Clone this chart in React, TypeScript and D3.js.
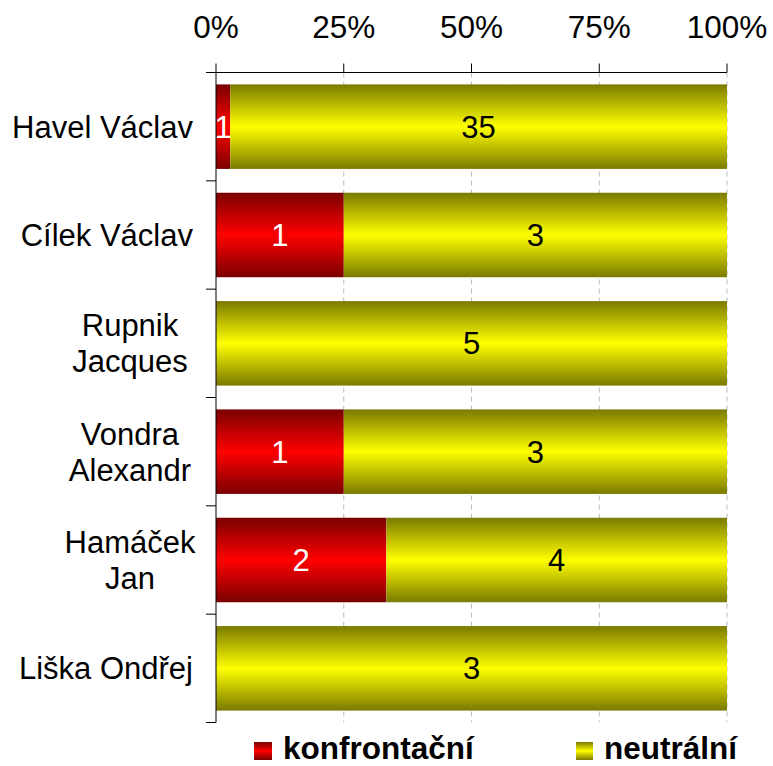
import React from "react";
import * as d3 from "d3";

const categories = [
  ["Havel Václav"],
  ["Cílek Václav"],
  ["Rupnik", "Jacques"],
  ["Vondra", "Alexandr"],
  ["Hamáček", "Jan"],
  ["Liška Ondřej"],
];
const konfrontacni = [1, 1, 0, 1, 2, 0];
const neutralni = [35, 3, 5, 3, 4, 3];
const tickValues = [0, 0.25, 0.5, 0.75, 1];
const seriesNames = ["konfrontační", "neutrální"];

const W = 773;
const H = 766;
const M = { left: 216, right: 727, top: 72.5, bottom: 722.5 };
const FONT = "Liberation Sans, Arial, sans-serif";

export default function App() {
  const x = d3.scaleLinear().domain([0, 1]).range([M.left, M.right]);
  const y = d3
    .scaleBand<number>()
    .domain(categories.map((_, i) => i))
    .range([M.top, M.bottom])
    .paddingInner(0.22)
    .paddingOuter(0.11);
  const step = y.step();

  const rows = categories.map((c, i) => {
    const total = konfrontacni[i] + neutralni[i];
    return { i, c, k: konfrontacni[i], n: neutralni[i], kp: konfrontacni[i] / total };
  });

  return (
    <svg
      width={W}
      height={H}
      style={{ position: "absolute", left: 0, top: 0, background: "#fff" }}
      fontFamily={FONT}
    >
      <defs>
        <linearGradient id="gRed" x1="0" y1="0" x2="0" y2="1">
          <stop offset="0" stopColor="#7a0000" />
          <stop offset="0.5" stopColor="#ff0000" />
          <stop offset="1" stopColor="#7a0000" />
        </linearGradient>
        <linearGradient id="gYel" x1="0" y1="0" x2="0" y2="1">
          <stop offset="0" stopColor="#7a7a00" />
          <stop offset="0.5" stopColor="#ffff00" />
          <stop offset="1" stopColor="#7a7a00" />
        </linearGradient>
      </defs>

      {/* gridlines */}
      {tickValues.slice(1).map((t) => (
        <line
          key={"g" + t}
          x1={x(t)}
          x2={x(t)}
          y1={M.top}
          y2={M.bottom}
          stroke="#bdbdbd"
          strokeWidth={1}
          strokeDasharray="5,4"
        />
      ))}

      {/* bars */}
      {rows.map((r) => {
        const by = y(r.i)!;
        const bh = y.bandwidth();
        return (
          <g key={"b" + r.i}>
            {r.k > 0 && (
              <rect x={x(0)} y={by} width={x(r.kp) - x(0)} height={bh} fill="url(#gRed)" />
            )}
            <rect x={x(r.kp)} y={by} width={x(1) - x(r.kp)} height={bh} fill="url(#gYel)" />
            {r.k > 0 && (
              <text
                x={(x(0) + x(r.kp)) / 2}
                y={by + bh / 2}
                dy="0.36em"
                textAnchor="middle"
                fontSize={31}
                fill="#fff"
              >
                {r.k}
              </text>
            )}
            <text
              x={(x(r.kp) + x(1)) / 2}
              y={by + bh / 2}
              dy="0.36em"
              textAnchor="middle"
              fontSize={31}
              fill="#000"
            >
              {r.n}
            </text>
          </g>
        );
      })}

      {/* top axis */}
      <line x1={M.left - 10} x2={M.right} y1={M.top} y2={M.top} stroke="#000" strokeWidth={1} />
      {tickValues.map((t) => (
        <g key={"t" + t}>
          <line x1={x(t)} x2={x(t)} y1={M.top - 9} y2={M.top} stroke="#000" />
          <text x={x(t)} y={38} textAnchor="middle" fontSize={31.5} fill="#000">
            {d3.format(".0%")(t)}
          </text>
        </g>
      ))}

      {/* left axis */}
      <line x1={M.left} x2={M.left} y1={M.top} y2={M.bottom} stroke="#000" strokeWidth={1} />
      {d3.range(categories.length + 1).map((k) => (
        <line
          key={"lt" + k}
          x1={M.left - 10}
          x2={M.left}
          y1={M.top + k * step}
          y2={M.top + k * step}
          stroke="#000"
        />
      ))}

      {/* category labels */}
      {rows.map((r) => {
        const cy = y(r.i)! + y.bandwidth() / 2;
        const lh = 36;
        if (r.c.length === 1) {
          return (
            <text key={"c" + r.i} x={193} y={cy} dy="0.36em" textAnchor="end" fontSize={31} fill="#000">
              {r.c[0]}
            </text>
          );
        }
        return (
          <text key={"c" + r.i} x={130} textAnchor="middle" fontSize={31} fill="#000">
            {r.c.map((line, j) => (
              <tspan key={j} x={130} y={cy + (j - (r.c.length - 1) / 2) * lh} dy="0.36em">
                {line}
              </tspan>
            ))}
          </text>
        );
      })}

      {/* legend */}
      <g>
        <rect x={254} y={742} width={18} height={18} fill="url(#gRed)" />
        <text x={283} y={759} fontSize={31.5} fontWeight="bold" fill="#000">
          {seriesNames[0]}
        </text>
        <rect x={576} y={742} width={17} height={18} fill="url(#gYel)" />
        <text x={604} y={759} fontSize={31.5} fontWeight="bold" fill="#000">
          {seriesNames[1]}
        </text>
      </g>
    </svg>
  );
}
